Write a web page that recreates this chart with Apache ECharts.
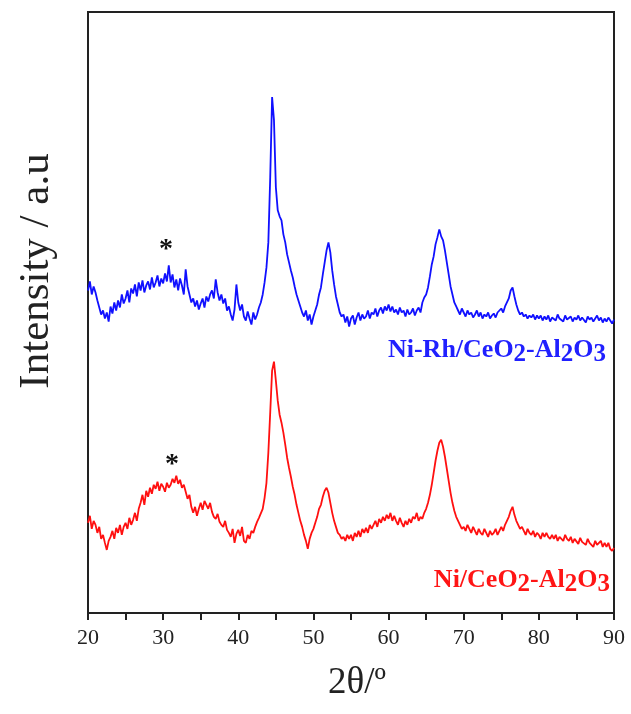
<!DOCTYPE html>
<html>
<head>
<meta charset="utf-8">
<script src="https://cdn.jsdelivr.net/npm/echarts@6/dist/echarts.min.js"></script>
<style>html,body{margin:0;padding:0;background:#fff}#c{width:631px;height:714px}</style>
</head>
<body>
<div id="c"></div>
<script>
// 2θ sampling: 20° to 90° in 0.25° steps
const thetaStart = 20, thetaStep = 0.25;
const xTicks = [20, 30, 40, 50, 60, 70, 80, 90];
// Ni-Rh/CeO2-Al2O3 (blue), intensity a.u. (offset trace)
const niRh = [
322,331,318,326, 320,312,305,298, 302,294,300,291, 306,299,310,302,
312,305,318,309, 314,322,310,324, 319,328,316,330, 322,332,320,327,
331,323,335,325, 330,337,326,334, 329,339,331,347, 330,338,325,333,
322,334,327,318, 343,326,318,310, 314,306,312,303, 309,314,305,316,
311,318,322,314, 333,320,312,318, 309,314,302,306, 298,292,303,328,
310,302,308,296, 292,301,294,288, 300,293,298,305, 310,318,330,345,
370,435,515,492, 425,402,396,392, 378,370,358,350, 342,335,326,318,
312,306,300,296, 302,292,298,288, 296,302,308,318, 325,338,350,362,
370,360,342,328, 316,308,300,296, 298,290,296,286, 294,297,288,295,
300,292,298,294, 296,302,294,300, 298,304,296,302, 305,299,306,302,
308,301,306,300, 303,298,305,300, 302,296,303,298, 300,304,297,302,
305,300,310,315, 318,325,336,348, 356,368,375,383, 376,372,362,350,
338,326,318,310, 306,302,298,304, 300,296,302,298, 300,295,298,302,
296,300,294,298, 296,300,294,297, 299,295,300,302, 304,300,306,310,
314,322,325,316, 308,302,298,300, 296,298,294,297, 295,298,293,297,
294,297,292,296, 293,297,291,295, 296,292,298,294, 295,291,297,293,
294,296,291,295, 293,297,292,295, 294,290,296,293, 295,291,294,297,
292,295,290,294, 291,295,292,289, 293
];
// Ni/CeO2-Al2O3 (red)
const niCe = [
90,97,84,92, 88,80,86,74, 78,70,63,72, 76,82,74,85,
80,88,78,86, 90,84,95,88, 93,100,92,104, 110,118,108,122,
116,125,119,128, 124,131,122,129, 126,121,130,125, 128,134,130,137,
129,133,125,128, 121,114,118,106, 100,106,97,104, 110,103,112,108,
104,110,101,96, 94,99,91,88, 86,92,83,80, 76,84,70,79,
83,77,86,72, 70,78,74,82, 80,86,91,95, 96,104,115,130,
160,200,242,251, 232,212,198,190, 180,168,155,145, 136,126,118,108,
100,92,86,78, 72,64,74,80, 84,90,96,104, 108,116,122,125,
120,110,100,92, 86,80,78,74, 76,72,78,74, 78,72,80,76,
82,76,84,80, 85,80,88,84, 88,92,86,94, 90,96,92,98,
94,100,92,97, 92,88,95,90, 86,92,88,94, 90,96,94,100,
92,96,94,100, 104,110,118,128, 140,152,162,170, 173,166,156,144,
132,120,110,102, 96,92,88,84, 86,82,88,84, 80,86,82,78,
84,80,78,84, 80,76,82,78, 80,84,78,82, 86,82,88,92,
96,102,106,98, 92,88,84,86, 82,78,84,80, 78,82,76,80,
78,74,80,76, 80,76,74,78, 74,78,72,76, 76,72,78,74,
72,76,70,74, 73,69,75,71, 72,68,74,70, 70,66,72,68,
68,72,66,70, 66,70,64,62, 65
];

const toPairs = arr => arr.map((v, i) => [thetaStart + i * thetaStep, v]);
const serif = 'Liberation Serif, Times New Roman, serif';

function formulaStyle(color) {
  return {
    b: {fill: color, fontFamily: serif, fontWeight: 'bold', fontSize: 26, verticalAlign: 'top', lineHeight: 30},
    s: {fill: color, fontFamily: serif, fontWeight: 'bold', fontSize: 25, verticalAlign: 'bottom', lineHeight: 30, padding: [8, 0, 0, 0]}
  };
}

const chart = echarts.init(document.getElementById('c'), null, {renderer: 'canvas'});
chart.setOption({
  animation: false,
  backgroundColor: '#fff',
  grid: {left: 88, right: 17, top: 12, bottom: 101, show: true, borderColor: '#222', borderWidth: 2, containLabel: false},
  xAxis: {
    type: 'value', min: 20, max: 90, interval: 5,
    axisLine: {lineStyle: {color: '#222', width: 2}},
    axisTick: {show: true, inside: false, length: 7, lineStyle: {color: '#222', width: 2}},
    axisLabel: {
      color: '#222', fontFamily: serif, fontSize: 22, margin: 14,
      formatter: v => xTicks.indexOf(v) >= 0 ? String(v) : ''
    },
    splitLine: {show: false},
    name: '2θ/º', nameLocation: 'middle', nameGap: 52,
    nameTextStyle: {color: '#222', fontFamily: serif, fontSize: 37, padding: [0, 0, 0, 12]}
  },
  yAxis: {
    type: 'value', min: 0, max: 600,
    axisLine: {show: true, lineStyle: {color: '#222', width: 2}},
    axisTick: {show: false}, axisLabel: {show: false}, splitLine: {show: false}
  },
  series: [
    {type: 'line', data: toPairs(niRh), showSymbol: false, lineStyle: {color: '#1010ff', width: 1.8}, z: 3},
    {type: 'line', data: toPairs(niCe), showSymbol: false, lineStyle: {color: '#ff1010', width: 1.8}, z: 3}
  ],
  graphic: [
    {type: 'text', x: 37, y: 271, rotation: Math.PI / 2,
     style: {text: 'Intensity / a.u', fill: '#222', font: '43px ' + serif, align: 'center', verticalAlign: 'middle'}},
    {type: 'text', x: 166, y: 250, style: {text: '*', fill: '#111', font: 'bold 28px ' + serif, align: 'center', verticalAlign: 'middle'}},
    {type: 'text', x: 172, y: 465, style: {text: '*', fill: '#111', font: 'bold 28px ' + serif, align: 'center', verticalAlign: 'middle'}},
    {type: 'text', x: 606, y: 337,
     style: {text: '{b|Ni-Rh/CeO}{s|2}{b|-Al}{s|2}{b|O}{s|3}', align: 'right', rich: formulaStyle('#2020ff')}},
    {type: 'text', x: 610, y: 567,
     style: {text: '{b|Ni/CeO}{s|2}{b|-Al}{s|2}{b|O}{s|3}', align: 'right', rich: formulaStyle('#ff1515')}}
  ]
});
</script>
</body>
</html>
